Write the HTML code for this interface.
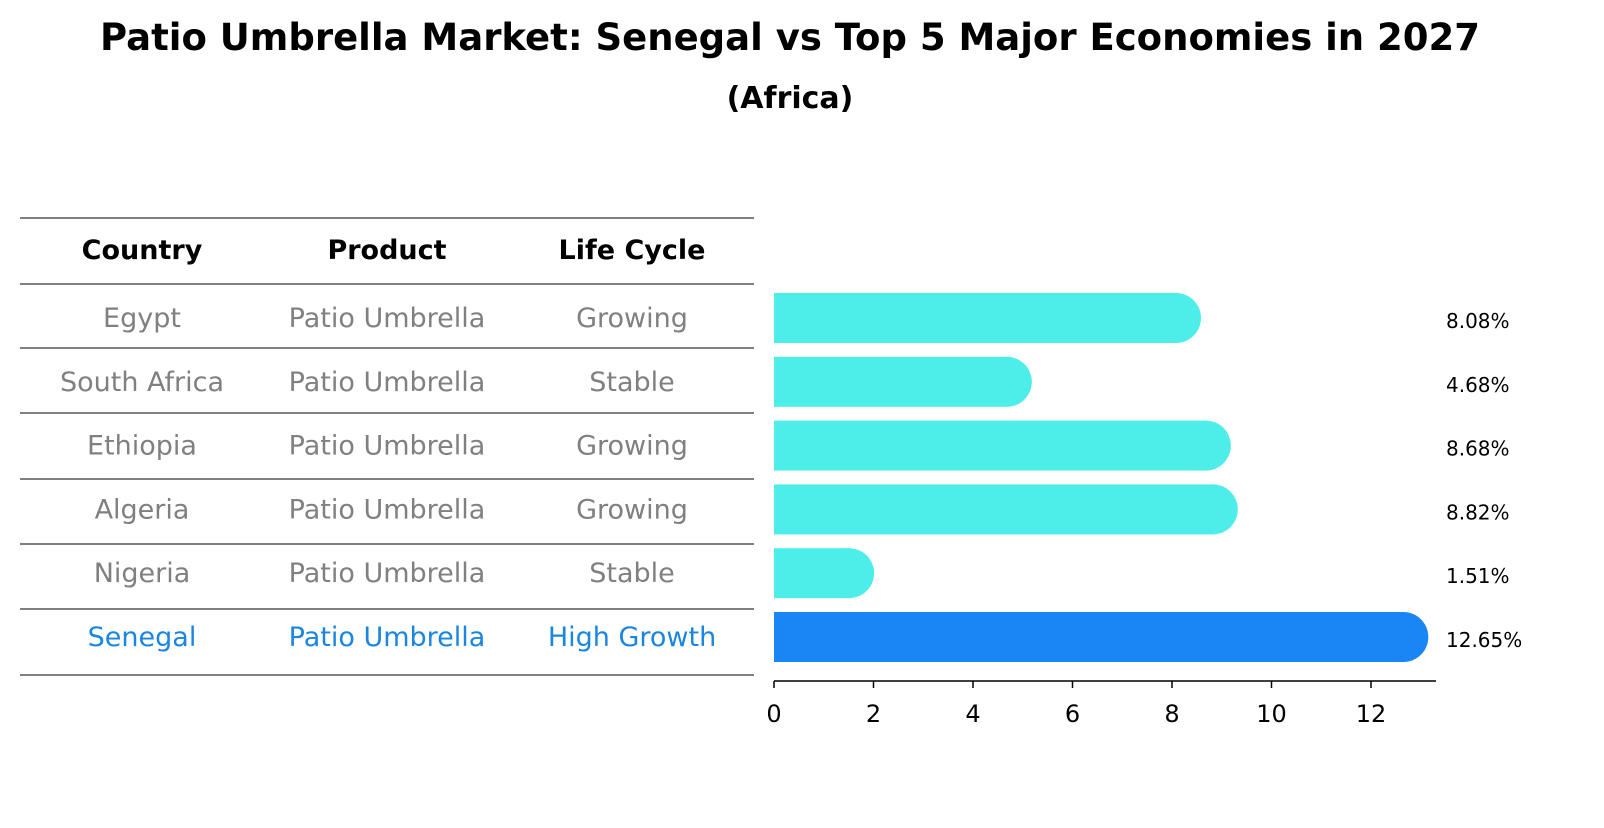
<!DOCTYPE html>
<html><head><meta charset="utf-8"><style>
body{margin:0;background:#fff;font-family:"Liberation Sans","DejaVu Sans",sans-serif;}
</style></head><body>
<svg width="1604" height="823" xmlns="http://www.w3.org/2000/svg" font-family="DejaVu Sans, Liberation Sans, sans-serif">
<text x="790" y="50" text-anchor="middle" font-size="37" font-weight="bold">Patio Umbrella Market: Senegal vs Top 5 Major Economies in 2027</text>
<text x="790" y="108" text-anchor="middle" font-size="30" font-weight="bold">(Africa)</text>
<g id="table"></g>
<g id="bars"></g>
<g id="axis"></g>
</svg>
<script>
const countries=["Egypt","South Africa","Ethiopia","Algeria","Nigeria","Senegal"];
const products=["Patio Umbrella","Patio Umbrella","Patio Umbrella","Patio Umbrella","Patio Umbrella","Patio Umbrella"];
const lifecycle=["Growing","Stable","Growing","Growing","Stable","High Growth"];
const values=[8.08,4.68,8.68,8.82,1.51,12.65];
const ticks=[0,2,4,6,8,10,12];
const NS="http://www.w3.org/2000/svg";
function mk(tag,attrs,parent,text){const e=document.createElementNS(NS,tag);for(const k in attrs)e.setAttribute(k,attrs[k]);if(text!==undefined)e.textContent=text;parent.appendChild(e);return e;}
const x=v=>774+v*(1371-774)/12;
const rowY=i=>318+i*63.8;
const tb=document.getElementById('table');
const lineYs=[218,284,348,413,479,544,609,675];
lineYs.forEach(y=>{const l=mk('line',{x1:20,x2:754,y1:y,y2:y,stroke:'#000','stroke-width':1},tb);

});
const cols=[142,387,632];
["Country","Product","Life Cycle"].forEach((h,j)=>{const t=mk('text',{x:cols[j],y:259,'text-anchor':'middle','font-size':27,'font-weight':'bold'},tb,h);

});
countries.forEach((c,i)=>{const col=i===5?'#1a86e0':'#808080';
[c,products[i],lifecycle[i]].forEach((v,j)=>{const t=mk('text',{x:cols[j],y:rowY(i)+9,'text-anchor':'middle','font-size':27,fill:col},tb,v);

});});
const bg=document.getElementById('bars');
values.forEach((v,i)=>{const col=i===5?'#1a86f5':'#4deee9';const cy=rowY(i);
const g=mk('g',{},bg);


mk('rect',{x:x(0),y:cy-25,width:x(v)-x(0),height:50,fill:col},g);
mk('circle',{cx:x(v),cy:cy,r:25,fill:col},g);
const t=mk('text',{x:1446,y:cy+10,'font-size':20},bg,v.toFixed(2)+'%');

});
const ax=document.getElementById('axis');
mk('line',{x1:x(0),x2:1436,y1:681,y2:681,stroke:'#000','stroke-width':1.5},ax);
ticks.forEach(t=>{mk('line',{x1:x(t),x2:x(t),y1:681,y2:688,stroke:'#000','stroke-width':1.5},ax);
const e=mk('text',{x:x(t),y:722,'text-anchor':'middle','font-size':24},ax,t);

});
</script>
</body></html>
